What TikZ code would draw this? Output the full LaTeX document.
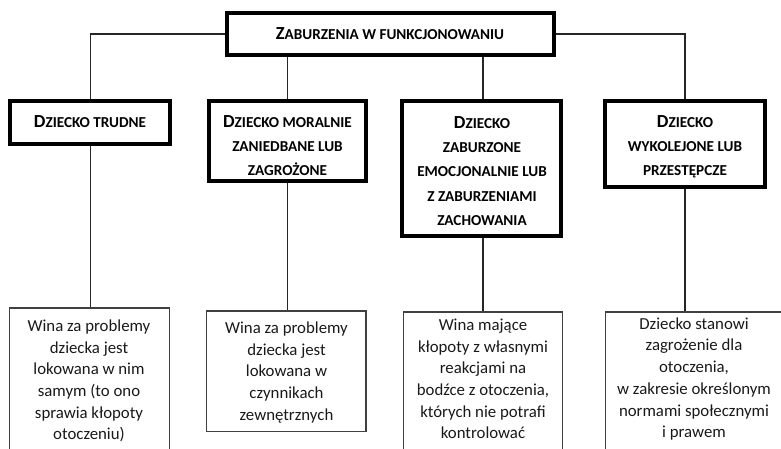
\documentclass[tikz,border=0pt]{standalone}
\usepackage{fontspec}
\setmainfont{Carlito}
\newcommand\Cap[1]{{\fontsize{18.4}{24}\selectfont #1}}
\begin{document}
\begin{tikzpicture}[x=1pt,y=-1pt,
  head/.style={draw=black,line width=4pt,inner sep=0pt},
  headtxt/.style={align=center,inner sep=0pt,font=\fontsize{15.2}{24.2}\selectfont\bfseries},
  lowbox/.style={draw=black!75,line width=1.3pt,inner sep=0pt},
  lowtxt/.style={align=center,inner sep=0pt,text=black!90,font=\fontsize{16.8}{21.7}\selectfont},
  conn/.style={line width=1.2pt,draw=black!85}]
\useasboundingbox (0,0) rectangle (781,449);
\begin{scope}
\clip (0,0) rectangle (781,449);
% heading boxes
\node[head, minimum width=326.7pt, minimum height=42.6pt] (top) at (390.35,34) {};
\node[head, minimum width=159.7pt, minimum height=43pt] (b1) at (90.15,122.5) {};
\node[head, minimum width=157.6pt, minimum height=80.3pt] (b2) at (287.5,141.15) {};
\node[head, minimum width=158.7pt, minimum height=134.7pt] (b3) at (481.35,168.35) {};
\node[head, minimum width=159.4pt, minimum height=86.3pt] (b4) at (685,144.15) {};
% lower boxes
\node[lowbox, minimum width=160pt, minimum height=162pt] (lb1) at (89.3,389) {};
\node[lowbox, minimum width=159.3pt, minimum height=120.7pt] (lb2) at (286.35,371.35) {};
\node[lowbox, minimum width=159.4pt, minimum height=158pt] (lb3) at (483,391) {};
\node[lowbox, minimum width=179.3pt, minimum height=158pt] (lb4) at (695.35,391) {};
% heading texts
\node[headtxt] (t0) at (390,33.7) {\Cap{Z}ABURZENIA W FUNKCJONOWANIU};
\node[headtxt] (t1) at (90,121.7) {\Cap{D}ZIECKO TRUDNE};
\node[headtxt] (t2) at (287.5,145.5) {\Cap{D}ZIECKO MORALNIE\\ZANIEDBANE LUB\\ZAGROŻONE};
\node[headtxt] (t3) at (482,171) {\Cap{D}ZIECKO\\ZABURZONE\\EMOCJONALNIE LUB\\Z ZABURZENIAMI\\ZACHOWANIA};
\node[headtxt] (t4) at (685,146.5) {\Cap{D}ZIECKO\\WYKOLEJONE LUB\\PRZESTĘPCZE};
% lower texts
\node[lowtxt] (lt1) at (89,381) {Wina za problemy\\dziecka jest\\lokowana w nim\\samym (to ono\\sprawia kłopoty\\otoczeniu)};
\node[lowtxt] (lt2) at (286.5,372.5) {Wina za problemy\\dziecka jest\\lokowana w\\czynnikach\\zewnętrznych};
\node[lowtxt] (lt3) at (483,379) {Wina mające\\kłopoty z własnymi\\reakcjami na\\bodźce z otoczenia,\\których nie potrafi\\kontrolować};
\node[lowtxt] (lt4) at (694,379) {Dziecko stanowi\\zagrożenie dla\\otoczenia,\\w zakresie określonym\\normami społecznymi\\i prawem};
% connectors
\draw[conn] (top.west) -| (b1.north);
\draw[conn] (top.east) -| (b4.north);
\draw[conn] (b2.north |- top.south) -- (b2.north);
\draw[conn] (lb3.north |- top.south) -- (lb3.north |- b3.north);
\draw[conn] (b1.south) -- (b1.south |- lb1.north);
\draw[conn] (b2.south) -- (b2.south |- lb2.north);
\draw[conn] (lb3.north |- b3.south) -- (lb3.north);
\draw[conn] (b4.south) -- (b4.south |- lb4.north);
\end{scope}
\end{tikzpicture}
\end{document}
